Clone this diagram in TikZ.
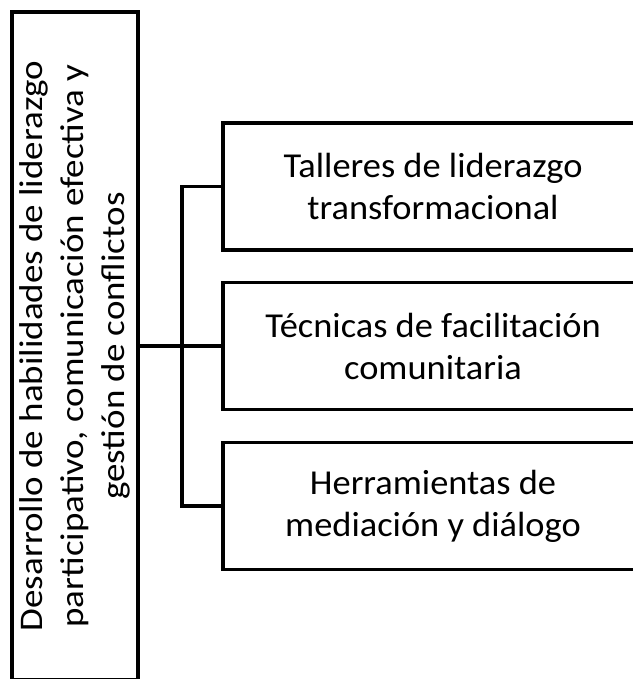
\documentclass[tikz,border=0pt]{standalone}
\usepackage{fontspec}
\setmainfont{Carlito}
\newfontfamily\widefont[FakeStretch=1.12]{Carlito}
\newfontfamily\boxfont[FakeStretch=1.04]{Carlito}

\begin{document}
\begin{tikzpicture}[x=1pt, y=-1pt,
  mainbox/.style = {draw, line width=3.5pt, rotate=90, minimum width=668pt, minimum height=126pt, inner sep=0pt, align=center, font=\widefont\fontsize{33}{41}\selectfont},
  subbox/.style = {draw, line width=3.5pt, minimum width=420pt, minimum height=127pt, inner sep=0pt, align=center, font=\boxfont\fontsize{35}{42}\selectfont},
  link/.style = {line width=3.5pt}]

\useasboundingbox (0,0) rectangle (632,679);

% Boxes
\node[mainbox] (desarrollo) at (75,346) {Desarrollo de habilidades de liderazgo\\participativo, comunicación efectiva y\\gestión de conflictos};
\node[subbox] (talleres) at (433,186.5) {Talleres de liderazgo\\transformacional};
\node[subbox] (tecnicas) at (433,346) {Técnicas de facilitación\\comunitaria};
\node[subbox] (herramientas) at (433,506) {Herramientas de\\mediación y diálogo};

% Lines
\coordinate (fork) at (182,346);
\draw[link] (desarrollo.south) -- (fork);
\draw[link] (fork) |- (talleres.west);
\draw[link] (fork) -- (tecnicas.west);
\draw[link] (fork) |- (herramientas.west);

\end{tikzpicture}
\end{document}
